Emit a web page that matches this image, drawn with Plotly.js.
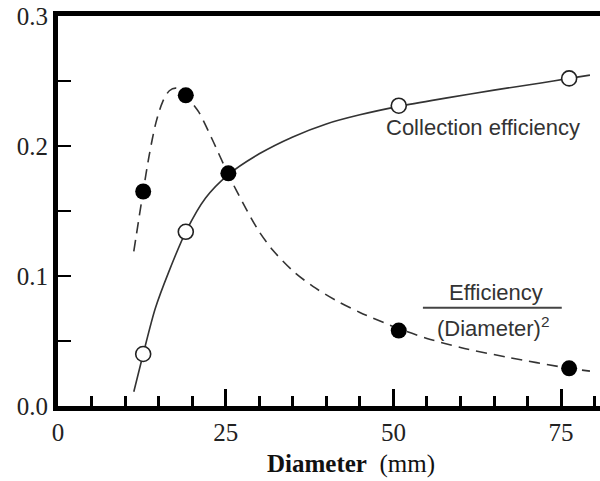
<!DOCTYPE html>
<html>
<head>
<meta charset="utf-8">
<script src="https://cdn.plot.ly/plotly-3.0.1.min.js"></script>
<style>
html,body{margin:0;padding:0;background:#fff;overflow:hidden;}
#chart{width:600px;height:481px;}
</style>
</head>
<body>
<div id="chart"></div>
<script>
// Measured points: tube diameter (mm)
const diameterPts = [12.7, 19.05, 50.8, 76.2];
const collectionEff = [0.040, 0.134, 0.231, 0.252];
const ratioDiam = [12.7, 19.05, 25.4, 50.8, 76.2];
const effPerDiam2 = [0.165, 0.239, 0.179, 0.058, 0.029];

// Fitted curve (solid)
const solidX = [11.3, 12.7, 14.5, 16.5, 19.05, 22.0, 25.4, 30.0, 35.0, 40.0, 45.0, 50.8, 58.0, 65.0, 72.0, 76.2, 79.3];
const solidY = [0.011, 0.040, 0.075, 0.103, 0.134, 0.160, 0.178, 0.194, 0.207, 0.217, 0.224, 0.2305, 0.237, 0.243, 0.2485, 0.252, 0.2545];

// Fitted curve (dashed)
const dashX = [11.3, 12.7, 13.6, 14.6, 15.6, 16.6, 17.6, 18.5, 19.3, 21.0, 23.0, 25.4, 28.0, 30.0, 32.0, 35.0, 38.0, 41.5, 45.0, 50.8, 55.0, 60.0, 67.0, 76.2, 79.3];
const dashY = [0.119, 0.165, 0.193, 0.218, 0.234, 0.2425, 0.2445, 0.242, 0.2375, 0.226, 0.205, 0.178, 0.152, 0.134, 0.120, 0.104, 0.092, 0.081, 0.072, 0.0595, 0.052, 0.045, 0.0375, 0.029, 0.0268];

const xTickVals = [0, 25, 50, 75];
const xTickText = ['0', '25', '50', '75'];
const yTickVals = [0, 0.1, 0.2, 0.3];
const yTickText = ['0.0', '0.1', '0.2', '0.3'];

const serif = '"Liberation Serif", "Times New Roman", serif';
const sans = '"Liberation Sans", Arial, sans-serif';

const traces = [
  {x: solidX, y: solidY, mode: 'lines', line: {color: '#333', width: 1.6, shape: 'spline', smoothing: 0.8}, hoverinfo: 'skip'},
  {x: dashX, y: dashY, mode: 'lines', line: {color: '#333', width: 1.6, shape: 'spline', smoothing: 0.8, dash: '11px,7px'}, hoverinfo: 'skip'},
  {x: diameterPts, y: collectionEff, mode: 'markers', marker: {symbol: 'circle', size: 15, color: '#fff', line: {color: '#222', width: 1.6}}},
  {x: ratioDiam, y: effPerDiam2, mode: 'markers', marker: {symbol: 'circle', size: 16, color: '#000', line: {width: 0}}}
];

const layout = {
  width: 600, height: 481,
  margin: {l: 58, r: 0, t: 16, b: 75},
  paper_bgcolor: '#fff', plot_bgcolor: '#fff',
  showlegend: false,
  xaxis: {
    range: [0, 80.8], showgrid: false, zeroline: false,
    showline: true, linewidth: 5, linecolor: '#000', mirror: true,
    ticks: 'inside', ticklen: 17, tickwidth: 3, tickcolor: '#000',
    tickvals: xTickVals, ticktext: xTickText,
    tickfont: {family: serif, size: 25, color: '#222'},
    minor: {dtick: 5, tick0: 0, ticks: 'inside', ticklen: 10, tickwidth: 3, tickcolor: '#000', showgrid: false}
  },
  yaxis: {
    range: [0, 0.3], showgrid: false, zeroline: false,
    showline: true, linewidth: 5, linecolor: '#000',
    ticks: 'inside', ticklen: 13, tickwidth: 2.5, tickcolor: '#000',
    tickvals: yTickVals, ticktext: yTickText,
    tickfont: {family: serif, size: 25, color: '#222'},
    minor: {dtick: 0.05, tick0: 0, ticks: 'inside', ticklen: 13, tickwidth: 2.5, tickcolor: '#000', showgrid: false}
  },
  annotations: [
    {text: '<b>Diameter</b>&nbsp;&nbsp;(mm)', xref: 'x', yref: 'paper', x: 43.7, y: -0.15, xanchor: 'center', yanchor: 'middle', showarrow: false, font: {family: serif, size: 25, color: '#111'}},
    {text: 'Collection efficiency', xref: 'x', yref: 'y', x: 63.3, y: 0.2145, xanchor: 'center', yanchor: 'middle', showarrow: false, font: {family: sans, size: 22, color: '#333'}},
    {text: 'Efficiency', xref: 'x', yref: 'y', x: 65.3, y: 0.0875, xanchor: 'center', yanchor: 'middle', showarrow: false, font: {family: sans, size: 22, color: '#333'}},
    {text: '(Diameter)<sup>2</sup>', xref: 'x', yref: 'y', x: 64.8, y: 0.0605, xanchor: 'center', yanchor: 'middle', showarrow: false, font: {family: sans, size: 22, color: '#333'}}
  ],
  shapes: [
    {type: 'line', xref: 'x', yref: 'y', x0: 54.4, x1: 75.1, y0: 0.0755, y1: 0.0755, line: {color: '#444', width: 2}}
  ]
};

Plotly.newPlot('chart', traces, layout, {displayModeBar: false, staticPlot: true});
</script>
</body>
</html>
